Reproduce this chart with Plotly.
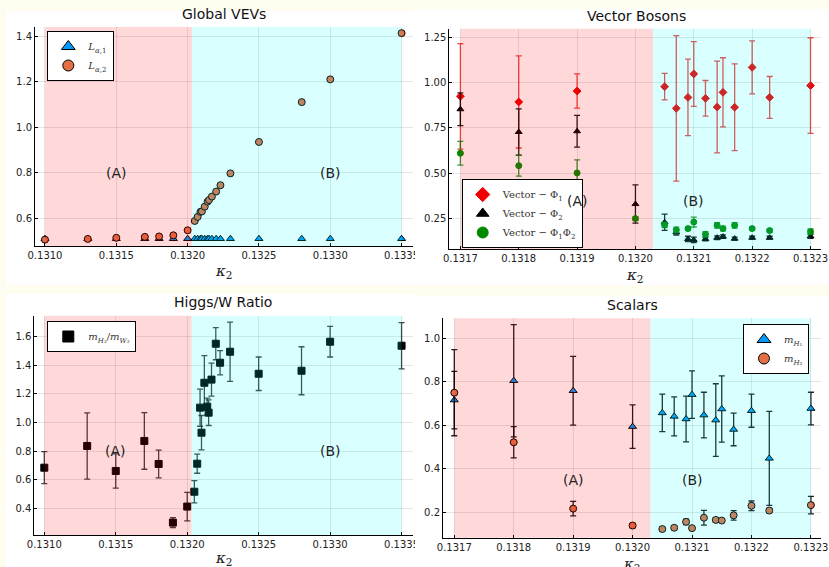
import plotly.graph_objects as go

W, H = 829, 567

# ---------------- data ----------------
kappa_vev = [0.1310, 0.1313, 0.1315, 0.1317, 0.1318, 0.1319, 0.1320,
             0.13205, 0.13207, 0.13209, 0.1321, 0.13212, 0.13214, 0.13215,
             0.13217, 0.1322, 0.13223, 0.1323, 0.1325, 0.1328, 0.1330, 0.1335]
L_alpha1 = [0.510, 0.510, 0.510, 0.510, 0.510, 0.510, 0.510,
            0.510, 0.510, 0.510, 0.510, 0.510, 0.510, 0.510,
            0.510, 0.510, 0.510, 0.510, 0.510, 0.510, 0.510, 0.510]
L_alpha2 = [0.506, 0.509, 0.514, 0.518, 0.520, 0.525, 0.547,
            0.588, 0.606, 0.628, 0.630, 0.651, 0.673, 0.680,
            0.695, 0.717, 0.745, 0.797, 0.935, 1.110, 1.210, 1.413]

ratio = [0.684, 0.836, 0.661, 0.871, 0.710, 0.300, 0.412,
         0.516, 0.712, 1.104, 0.929, 1.278, 1.111, 1.069,
         1.300, 1.551, 1.418, 1.495, 1.341, 1.362, 1.565, 1.537]
ratio_err = [0.112, 0.232, 0.120, 0.198, 0.097, 0.035, 0.100,
             0.078, 0.067, 0.130, 0.120, 0.190, 0.060, 0.090,
             0.116, 0.112, 0.085, 0.207, 0.117, 0.168, 0.107, 0.162]

kappa_mass = [0.1317, 0.1318, 0.1319, 0.1320, 0.13205, 0.13207, 0.13209, 0.1321,
              0.13212, 0.13214, 0.13215, 0.13217, 0.1322, 0.13223, 0.1323]
vec_phi1 = [0.924, 0.893, 0.953, None, 0.977, 0.858, 0.918, 1.047,
            0.913, 0.865, 0.946, 0.864, 1.083, 0.918, 0.983]
vec_phi1_err = [0.290, 0.253, 0.094, None, 0.073, 0.400, 0.210, 0.178,
                0.098, 0.252, 0.190, 0.238, 0.146, 0.115, 0.263]
vec_phi2 = [0.853, 0.728, 0.732, 0.332, 0.232, 0.177, 0.140, 0.135,
            0.140, 0.147, 0.153, 0.142, 0.147, 0.147, 0.155]
vec_phi2_err = [0.090, 0.127, 0.087, 0.105, 0.045, 0.015, 0.015, 0.015,
                0.010, 0.010, 0.010, 0.008, 0.008, 0.008, 0.012]
vec_phi12 = [0.611, 0.543, 0.503, 0.252, 0.217, 0.190, 0.197, 0.233,
             0.166, 0.215, 0.197, 0.215, 0.197, 0.186, 0.180]
vec_phi12_err = [0.065, 0.057, 0.072, 0.010, 0.015, 0.015, 0.010, 0.027,
                 0.015, 0.015, 0.012, 0.015, 0.008, 0.008, 0.015]

m_H1 = [0.716, 0.805, 0.759, 0.594, 0.657, 0.641, 0.629, 0.741,
        0.647, 0.624, 0.675, 0.581, 0.667, 0.448, 0.677]
m_H1_err = [0.132, 0.258, 0.158, 0.100, 0.086, 0.090, 0.105, 0.109,
            0.105, 0.167, 0.152, 0.075, 0.076, 0.216, 0.075]
m_H2 = [0.750, 0.522, 0.217, 0.139, 0.123, 0.129, 0.156, 0.127,
        0.175, 0.165, 0.162, 0.186, 0.230, 0.208, 0.233]
m_H2_err = [0.198, 0.072, 0.033, 0.010, 0.008, 0.008, 0.012, 0.008,
            0.034, 0.010, 0.008, 0.022, 0.022, 0.010, 0.040]

xticks_wide = [0.1310, 0.1315, 0.1320, 0.1325, 0.1330, 0.1335]
xticks_narrow = [0.1317, 0.1318, 0.1319, 0.1320, 0.1321, 0.1322, 0.1323]
yticks_vev = [0.6, 0.8, 1.0, 1.2, 1.4]
yticks_vec = [0.25, 0.50, 0.75, 1.00, 1.25]
yticks_ratio = [0.4, 0.6, 0.8, 1.0, 1.2, 1.4, 1.6]
yticks_scal = [0.2, 0.4, 0.6, 0.8, 1.0]

region_A_wide = (0.1310, 0.13203)
region_B_wide = (0.13203, 0.1335)
region_A_narrow = (0.1317, 0.13203)
region_B_narrow = (0.13203, 0.1323)

BLUE = "#009AFA"
ORANGE = "#E26F46"
RED = "#F00000"
GREEN = "#008A00"

# ---------------- helpers ----------------
def px_x(p):
    return p / W

def px_y(p):
    return 1 - p / H

fig = go.Figure()

def add_pts(x, y, err, xa, ya, symbol, color, size, line_color, err_color, legend):
    kw = {}
    if err is not None:
        kw["error_y"] = dict(type="data", array=err, visible=True, color=err_color,
                             thickness=1.3, width=3)
    fig.add_trace(go.Scatter(
        x=x, y=y, mode="markers", xaxis=xa, yaxis=ya, showlegend=False,
        marker=dict(symbol=symbol, color=color, size=size,
                    line=dict(color=line_color, width=1)),
        legend=legend, **kw))

def add_legend_entry(name, symbol, color, size, line_color, xa, ya, legend):
    fig.add_trace(go.Scatter(
        x=[None], y=[None], mode="markers", name=name, xaxis=xa, yaxis=ya,
        marker=dict(symbol=symbol, color=color, size=size,
                    line=dict(color=line_color, width=1)),
        legend=legend, showlegend=True))

# Panel 1: Global VEVs
add_legend_entry("<i>L</i><sub><i>α</i>,1</sub>", "triangle-up", BLUE, 12, "black", "x", "y", "legend")
add_legend_entry("<i>L</i><sub><i>α</i>,2</sub>", "circle", ORANGE, 11, "black", "x", "y", "legend")
add_pts(kappa_vev, L_alpha1, None, "x", "y", "triangle-up", BLUE, 7, "black", None, "legend")
add_pts(kappa_vev, L_alpha2, None, "x", "y", "circle", ORANGE, 7, "black", None, "legend")

# Panel 2: Vector Bosons
add_legend_entry("Vector − Φ<sub>1</sub>", "diamond", RED, 11, RED, "x2", "y2", "legend2")
add_legend_entry("Vector − Φ<sub>2</sub>", "triangle-up", "black", 11, "black", "x2", "y2", "legend2")
add_legend_entry("Vector − Φ<sub>1</sub>Φ<sub>2</sub>", "circle", GREEN, 11, GREEN, "x2", "y2", "legend2")
add_pts(kappa_mass, vec_phi1, vec_phi1_err, "x2", "y2", "diamond", RED, 6, RED, "rgba(235,20,20,0.8)", "legend2")
add_pts(kappa_mass, vec_phi2, vec_phi2_err, "x2", "y2", "triangle-up", "black", 6, "black", "rgba(0,0,0,0.9)", "legend2")
add_pts(kappa_mass, vec_phi12, vec_phi12_err, "x2", "y2", "circle", GREEN, 6, GREEN, "rgba(0,120,0,0.8)", "legend2")

# Panel 3: Higgs/W Ratio
add_legend_entry("<i>m</i><sub><i>H</i>₂</sub>/<i>m</i><sub><i>W</i>₂</sub>", "square", "black", 11, "black", "x3", "y3", "legend3")
add_pts(kappa_vev, ratio, ratio_err, "x3", "y3", "square", "black", 7, "black", "rgba(0,0,0,0.75)", "legend3")

# Panel 4: Scalars
add_legend_entry("<i>m</i><sub><i>H</i>₁</sub>", "triangle-up", BLUE, 12, "black", "x4", "y4", "legend4")
add_legend_entry("<i>m</i><sub><i>H</i>₂</sub>", "circle", ORANGE, 11, "black", "x4", "y4", "legend4")
add_pts(kappa_mass, m_H1, m_H1_err, "x4", "y4", "triangle-up", BLUE, 7, "black", "rgba(0,0,0,0.9)", "legend4")
add_pts(kappa_mass, m_H2, m_H2_err, "x4", "y4", "circle", ORANGE, 7, "black", "rgba(0,0,0,0.9)", "legend4")

# ---------------- axes ----------------
TICKFONT = dict(family="DejaVu Sans", size=10, color="#222")

def axis(domain, rng, ticks, fmt, anchor):
    return dict(domain=domain, range=rng, anchor=anchor, tickvals=ticks, automargin=False,
                tickformat=fmt, showgrid=True, gridcolor="rgba(0,0,0,0.1)", gridwidth=1,
                zeroline=False, showline=True, linecolor="black", linewidth=1,
                ticks="inside", ticklen=3, tickcolor="black", tickfont=TICKFONT)

d1x = [px_x(35), px_x(413)];    d1y = [px_y(246), px_y(27)]
d2x = [px_x(449.3), px_x(821)]; d2y = [px_y(249), px_y(28.7)]
d3x = [px_x(34.3), px_x(413)];  d3y = [px_y(535), px_y(315.7)]
d4x = [px_x(443), px_x(821)];   d4y = [px_y(537.7), px_y(318.3)]

fig.update_layout(
    template="none",
    xaxis=axis(d1x, [0.13093, 0.13358], xticks_wide, ".4f", "y"),
    yaxis=axis(d1y, [0.478, 1.44], yticks_vev, ".1f", "x"),
    xaxis2=axis(d2x, [0.131681, 0.132318], xticks_narrow, ".4f", "y2"),
    yaxis2=axis(d2y, [0.085, 1.2956], yticks_vec, ".2f", "x2"),
    xaxis3=axis(d3x, [0.13093, 0.13358], xticks_wide, ".4f", "y3"),
    yaxis3=axis(d3y, [0.2133, 1.747], yticks_ratio, ".1f", "x3"),
    xaxis4=axis(d4x, [0.131681, 0.132317], xticks_narrow, ".4f", "y4"),
    yaxis4=axis(d4y, [0.0832, 1.092], yticks_scal, ".1f", "x4"),
)

# ---------------- shapes ----------------
shapes = []
# white panel backgrounds on cream paper
for (x0, x1, y0, y1) in [(6, 415, 11, 285), (415, 829, 9, 285), (6, 415, 294, 567), (415, 829, 296, 567)]:
    shapes.append(dict(type="rect", xref="paper", yref="paper", x0=px_x(x0), x1=px_x(x1),
                       y0=px_y(y1), y1=px_y(y0), fillcolor="white", line=dict(width=0), layer="below"))

def spans(xa, ya, A, B):
    shapes.append(dict(type="rect", xref=xa, yref=ya + " domain", x0=A[0], x1=A[1], y0=0, y1=1,
                       fillcolor="rgba(255,0,0,0.15)", line=dict(width=0), layer="above"))
    shapes.append(dict(type="rect", xref=xa, yref=ya + " domain", x0=B[0], x1=B[1], y0=0, y1=1,
                       fillcolor="rgba(0,255,255,0.15)", line=dict(width=0), layer="above"))

spans("x", "y", region_A_wide, region_B_wide)
spans("x2", "y2", region_A_narrow, region_B_narrow)
spans("x3", "y3", region_A_wide, region_B_wide)
spans("x4", "y4", region_A_narrow, region_B_narrow)

# clip of the last tick label of left panels (subplot boundary)
for (y0, y1) in [(248, 263), (537, 552)]:
    shapes.append(dict(type="rect", xref="paper", yref="paper", x0=px_x(415), x1=px_x(421),
                       y0=px_y(y1), y1=px_y(y0), fillcolor="white", line=dict(width=0), layer="above"))

fig.update_layout(shapes=shapes)

# ---------------- annotations ----------------
ann = []
TITLEFONT = dict(family="DejaVu Sans", size=14, color="#111")
for (txt, cx, cy) in [("Global VEVs", 224, 14), ("Vector Bosons", 636, 16),
                      ("Higgs/W Ratio", 223, 302), ("Scalars", 632, 305)]:
    ann.append(dict(text=txt, xref="paper", yref="paper", x=px_x(cx), y=px_y(cy),
                    xanchor="center", yanchor="middle", showarrow=False, font=TITLEFONT))

KFONT = dict(family="DejaVu Serif", size=15, color="#222")
for (cx, cy) in [(224, 271), (635, 275), (224, 558), (632, 564)]:
    ann.append(dict(text="<i>κ</i><sub>2</sub>", xref="paper", yref="paper", x=px_x(cx), y=px_y(cy),
                    xanchor="center", yanchor="middle", showarrow=False, font=KFONT))

LABFONT = dict(family="DejaVu Sans", size=14, color="#222")
for (xa, ya, xA, yA, xB, yB) in [("x", "y", 0.1315, 0.8, 0.1330, 0.8),
                                 ("x2", "y2", 0.1319, 0.35, 0.1321, 0.35),
                                 ("x3", "y3", 0.1315, 0.8, 0.1330, 0.8),
                                 ("x4", "y4", 0.1319, 0.35, 0.1321, 0.35)]:
    ann.append(dict(text="(A)", xref=xa, yref=ya, x=xA, y=yA, showarrow=False, font=LABFONT))
    ann.append(dict(text="(B)", xref=xa, yref=ya, x=xB, y=yB, showarrow=False, font=LABFONT))

fig.update_layout(annotations=ann)

# ---------------- legends ----------------
LEGFONT = dict(family="DejaVu Serif", size=10, color="#333")
def leg(x, y, xanchor="left"):
    return dict(x=px_x(x), y=px_y(y), xanchor=xanchor, yanchor="top", xref="paper", yref="paper",
                bgcolor="white", bordercolor="black", borderwidth=1, font=LEGFONT,
                itemwidth=30, tracegroupgap=0)

fig.update_layout(
    legend=leg(47.3, 31),
    legend2=leg(461.7, 179),
    legend3=leg(47.3, 321),
    legend4=leg(809, 324, xanchor="right"),
)

fig.update_layout(
    width=W, height=H, autosize=False,
    margin=dict(l=0, r=0, t=0, b=0),
    paper_bgcolor="#FFFDF0", plot_bgcolor="white",
)

fig.write_html("out.html",
               config={"displayModeBar": False},
               post_script="document.body.style.margin='0';document.body.style.padding='0';"
                           "document.body.style.overflow='hidden';")
